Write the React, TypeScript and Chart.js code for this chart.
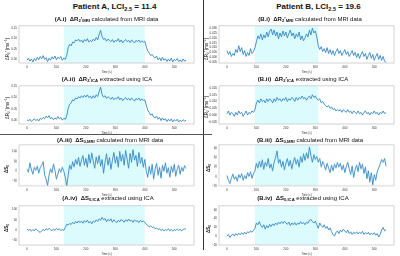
import React, { useEffect, useRef } from 'react';
import { Chart, registerables } from 'chart.js';

Chart.register(...registerables);

// ---------- data ----------
const T_STEP = 5; // seconds between samples (0 … 540 s)
const timeTicks = [0, 100, 200, 300, 400, 500];
const gasSpanA = [125, 400];
const gasSpanB = [95, 310];

// Patient A – ΔR2' from MRI (ms^-1)
const dR2MriA = [
  -0.004, 0.006, -0.008, 0.002, -0.012, 0.004, -0.006, 0.010, -0.002, 0.014,
  0.003, 0.018, 0.000, 0.008, -0.010, 0.006, -0.004, 0.012, 0.002, 0.016,
  -0.002, 0.010, 0.004, 0.014, -0.004, 0.006, 0.000, 0.020, 0.055, 0.072,
  0.064, 0.082, 0.078, 0.092, 0.088, 0.096, 0.084, 0.092, 0.080, 0.094,
  0.086, 0.098, 0.082, 0.090, 0.084, 0.096, 0.088, 0.104, 0.092, 0.118,
  0.138, 0.108, 0.094, 0.100, 0.086, 0.096, 0.090, 0.084, 0.094, 0.080,
  0.090, 0.086, 0.098, 0.082, 0.092, 0.078, 0.088, 0.094, 0.084, 0.090,
  0.080, 0.092, 0.086, 0.078, 0.090, 0.084, 0.092, 0.080, 0.088, 0.082,
  0.086, 0.060, 0.040, 0.030, 0.018, 0.024, 0.012, 0.006, 0.016, -0.002,
  0.008, -0.006, 0.010, -0.004, 0.004, -0.010, 0.002, -0.008, 0.006, -0.012,
  0.000, -0.006, 0.004, -0.010, -0.002, -0.012, 0.002, -0.008, -0.004,
];
// Patient A – ΔR2' from ICA
const dR2IcaA = [
  0.002, -0.004, 0.004, -0.006, 0.000, 0.006, -0.002, 0.004, -0.004, 0.008,
  0.004, 0.012, 0.006, 0.018, 0.010, 0.020, 0.006, 0.012, 0.002, 0.010,
  0.004, 0.016, 0.006, 0.012, 0.000, 0.008, 0.004, 0.018, 0.052, 0.070,
  0.076, 0.090, 0.086, 0.098, 0.094, 0.104, 0.098, 0.108, 0.100, 0.110,
  0.102, 0.112, 0.100, 0.106, 0.096, 0.108, 0.098, 0.112, 0.104, 0.126,
  0.146, 0.112, 0.102, 0.108, 0.096, 0.104, 0.098, 0.092, 0.102, 0.090,
  0.098, 0.094, 0.104, 0.090, 0.098, 0.086, 0.094, 0.100, 0.090, 0.096,
  0.088, 0.098, 0.092, 0.084, 0.096, 0.090, 0.098, 0.086, 0.094, 0.088,
  0.090, 0.066, 0.044, 0.034, 0.022, 0.028, 0.014, 0.010, 0.018, 0.004,
  0.012, -0.002, 0.010, 0.000, 0.006, -0.006, 0.004, -0.004, 0.006, -0.008,
  0.002, -0.004, 0.004, -0.008, 0.000, -0.006, 0.002, -0.004, 0.000,
];
// Patient A – ΔS0 from MRI
const dS0MriA = [
  10, -5, 42, 8, -15, 20, 5, 25, -10, 18,
  30, 48, -20, -40, -72, -20, 12, -8, 36, 5,
  -40, -15, 12, -5, 20, 0, -30, -76, -20, 30,
  10, 48, 22, 60, 35, 70, 25, 55, 78, 30,
  65, 20, 85, 40, 92, 50, 15, 72, 38, 80,
  25, 60, -10, 45, 88, 30, 70, 10, 55, 95,
  40, 75, 20, 100, 50, 85, 30, 105, 60, 15,
  90, 45, 108, 55, 80, 25, 95, 40, 70, 20,
  60, 0, -30, 25, -15, 35, -40, 10, 40, -20,
  20, -35, 30, 0, 42, -10, 18, -30, 25, -5,
  35, -25, 10, 30, -15, 20, 0, 28, 15,
];
// Patient A – ΔS0 from ICA
const dS0IcaA = [
  5, -2, 4, -6, 2, -4, 6, 0, -8, -12,
  -4, 2, -3, 6, 0, 8, 2, -4, 5, -2,
  8, 1, 6, -3, 2, -2, 12, 28, 24, 32,
  27, 38, 30, 42, 34, 45, 36, 44, 33, 46,
  38, 48, 35, 42, 30, 44, 38, 50, 42, 55,
  48, 62, 50, 56, 40, 52, 44, 55, 38, 50,
  42, 36, 48, 40, 52, 44, 38, 50, 42, 54,
  44, 48, 38, 50, 42, 46, 36, 48, 40, 44,
  38, 28, 22, 16, 20, 12, 15, 6, 10, 2,
  6, -3, 4, -5, 2, -2, 6, -4, 3, -6,
  2, -3, 5, -2, 4, -5, 2, 6, 3,
];
// Patient B – ΔR2' from MRI
const dR2MriB = [
  0.007, 0.003, 0.006, 0.001, 0.004, 0.002, 0.008, 0.005, 0.012, 0.006,
  0.010, 0.003, 0.007, 0.001, 0.005, 0.002, 0.009, 0.004, 0.006, 0.010,
  0.016, 0.022, 0.019, 0.024, 0.018, 0.023, 0.020, 0.026, 0.021, 0.027,
  0.029, 0.023, 0.028, 0.022, 0.026, 0.019, 0.025, 0.021, 0.027, 0.022,
  0.026, 0.020, 0.024, 0.028, 0.022, 0.025, 0.019, 0.024, 0.021, 0.026,
  0.018, 0.022, 0.017, 0.020, 0.024, 0.021, 0.028, 0.023, 0.030, 0.025,
  0.027, 0.021, 0.012, 0.008, 0.011, 0.006, 0.009, 0.005, 0.010, 0.004,
  0.008, 0.003, 0.007, 0.002, 0.006, 0.009, 0.004, 0.007, 0.002, 0.005,
  0.008, 0.003, 0.006, 0.001, 0.004, 0.007, 0.002, 0.005, 0.000, 0.004,
  -0.001, 0.003, 0.006, 0.001, 0.004, -0.002, 0.002, 0.005, -0.001, 0.003,
  -0.003, 0.001, 0.004, -0.002, 0.002, -0.003, 0.001, -0.004, -0.005,
];
// Patient B – ΔR2' from ICA
const dR2IcaB = [
  0.001, 0.003, 0.000, 0.002, 0.001, -0.001, 0.002, 0.000, 0.003, 0.001,
  0.002, -0.001, 0.001, 0.003, 0.000, 0.002, 0.001, 0.003, 0.002, 0.004,
  0.009, 0.011, 0.009, 0.012, 0.010, 0.011, 0.009, 0.012, 0.010, 0.012,
  0.011, 0.009, 0.012, 0.010, 0.013, 0.011, 0.012, 0.010, 0.012, 0.011,
  0.013, 0.010, 0.012, 0.011, 0.013, 0.012, 0.010, 0.013, 0.011, 0.013,
  0.012, 0.014, 0.012, 0.013, 0.011, 0.013, 0.014, 0.012, 0.015, 0.013,
  0.014, 0.012, 0.011, 0.012, 0.009, 0.010, 0.008, 0.007, 0.006, 0.007,
  0.005, 0.006, 0.004, 0.005, 0.003, 0.004, 0.003, 0.004, 0.002, 0.004,
  0.003, 0.002, 0.004, 0.002, 0.003, 0.001, 0.003, 0.002, 0.001, 0.003,
  0.001, 0.002, 0.000, 0.002, 0.003, 0.001, 0.002, 0.000, 0.002, 0.001,
  0.003, 0.001, 0.002, 0.000, 0.002, 0.001, 0.003, 0.001, 0.002,
];
// Patient B – ΔS0 from MRI
const dS0MriB = [
  2, -8, -15, -4, 5, -6, 0, -10, 4, -3,
  6, -8, 2, -5, 8, 0, 10, -4, 6, 12,
  28, 18, 32, 20, 35, 15, 30, 22, 38, 18,
  26, 12, 30, 40, 54, 28, 36, 20, 32, 14,
  28, 38, 22, 34, 16, 30, 40, 26, 36, 20,
  42, 30, 48, 34, 50, 38, 62, 44, 30, 46,
  36, 42, 30, 38, 20, 32, 24, 14, 28, 18,
  8, 24, 12, 26, 18, 30, 20, 28, 14, 24,
  8, 20, 30, 16, 4, 22, -2, 14, 24, 10,
  30, 16, 26, 6, 20, -5, 12, -12, 8, -18,
  4, -8, 10, 18, 26, 36, 30, 38, 22,
];
// Patient B – ΔS0 from ICA
const dS0IcaB = [
  0, 4, -3, 2, 5, 0, 6, 2, 7, 3,
  8, 4, 9, 5, 10, 8, 12, 9, 13, 18,
  30, 26, 33, 24, 20, 26, 16, 24, 19, 27,
  22, 28, 24, 30, 26, 32, 28, 33, 29, 34,
  30, 27, 32, 24, 30, 26, 31, 25, 30, 27,
  33, 28, 31, 26, 32, 29, 36, 38, 33, 30,
  34, 26, 18, 30, 24, 20, 26, 18, 22, 14,
  19, 10, 4, 0, 8, 12, 6, 14, 10, 16,
  12, 8, 14, 6, 10, 4, 9, 6, 10, 5,
  9, 6, 11, 4, 8, 5, 9, 3, 7, 4,
  8, 2, 6, -2, 4, 14, 20, 12, 15,
];

// y tick labels
const yTicksR2A = [0.15, 0.1, 0.05, 0.0];
const yTicksS0A = [100, 50, 0, -50];
const yTicksR2MriB = [0.03, 0.025, 0.02, 0.015, 0.01, 0.005, 0.0, -0.005];
const yTicksR2IcaB = [0.02, 0.015, 0.01, 0.005, 0.0, -0.005];
const yTicksS0B = [60, 40, 20, 0, -20];

// ---------- style / layout ----------
const FONT = "'Liberation Sans', Arial, sans-serif";
const LINE = '#3288c6';
const CYAN = '#dcfbfd';
const FRAME = '#c9c9c9';
const TICK = '#333';
const X_MIN = -27;
const X_MAX = 567;
const Y_AXIS_W = 19;
const X_AXIS_H = 11;
const PAD_T = 3;
const PAD_R = 3;

type Box = { l: number; t: number; r: number; b: number };
type Spec = {
  values: number[];
  span: number[];
  yMin: number;
  yMax: number;
  yTicks: number[];
  decimals: number;
  box: Box;
};

const colA = { l: 19, r: 194 };
const colB = { l: 219, r: 394 };
const rows = [
  { t: 25, b: 63 },
  { t: 85, b: 124 },
  { t: 144, b: 185.5 },
  { t: 205, b: 245 },
];

const panels: Spec[] = [
  { values: dR2MriA, span: gasSpanA, yMin: -0.017, yMax: 0.159, yTicks: yTicksR2A, decimals: 2, box: { ...colA, ...rows[0] } },
  { values: dR2IcaA, span: gasSpanA, yMin: -0.017, yMax: 0.152, yTicks: yTicksR2A, decimals: 2, box: { ...colA, ...rows[1] } },
  { values: dS0MriA, span: gasSpanA, yMin: -74, yMax: 133, yTicks: yTicksS0A, decimals: 0, box: { ...colA, ...rows[2] } },
  { values: dS0IcaA, span: gasSpanA, yMin: -74, yMax: 119, yTicks: yTicksS0A, decimals: 0, box: { ...colA, ...rows[3] } },
  { values: dR2MriB, span: gasSpanB, yMin: -0.0057, yMax: 0.0323, yTicks: yTicksR2MriB, decimals: 3, box: { ...colB, ...rows[0] } },
  { values: dR2IcaB, span: gasSpanB, yMin: -0.0066, yMax: 0.0216, yTicks: yTicksR2IcaB, decimals: 3, box: { ...colB, ...rows[1] } },
  { values: dS0MriB, span: gasSpanB, yMin: -20, yMax: 67, yTicks: yTicksS0B, decimals: 0, box: { ...colB, ...rows[2] } },
  { values: dS0IcaB, span: gasSpanB, yMin: -20, yMax: 69, yTicks: yTicksS0B, decimals: 0, box: { ...colB, ...rows[3] } },
];

const fmt = (v: number, d: number) => v.toFixed(d).replace('-', '\u2212');

function Panel({ spec }: { spec: Spec }) {
  const ref = useRef<HTMLCanvasElement>(null);
  const { box } = spec;
  const w = Y_AXIS_W + (box.r - box.l) + PAD_R;
  const h = (box.b - box.t) + PAD_T + X_AXIS_H;
  useEffect(() => {
    const spanPlugin = {
      id: 'gasSpan',
      beforeDatasetsDraw(chart: any) {
        const { ctx, chartArea: a, scales } = chart;
        const x0 = scales.x.getPixelForValue(spec.span[0]);
        const x1 = scales.x.getPixelForValue(spec.span[1]);
        ctx.save();
        ctx.fillStyle = CYAN;
        ctx.fillRect(x0, a.top, x1 - x0, a.bottom - a.top);
        ctx.restore();
      },
      afterDraw(chart: any) {
        const { ctx, chartArea: a } = chart;
        ctx.save();
        ctx.strokeStyle = FRAME;
        ctx.lineWidth = 0.8;
        ctx.strokeRect(a.left, a.top, a.right - a.left, a.bottom - a.top);
        ctx.restore();
      },
    };
    const chart = new Chart(ref.current as HTMLCanvasElement, {
      type: 'line',
      data: {
        datasets: [
          {
            data: spec.values.map((v, i) => ({ x: i * T_STEP, y: v })),
            borderColor: LINE,
            borderWidth: 0.9,
            pointRadius: 0,
            tension: 0,
            fill: false,
          },
        ],
      },
      options: {
        responsive: false,
        animation: false,
        events: [],
        layout: { padding: { top: PAD_T, right: PAD_R, left: 0, bottom: 0 } },
        plugins: { legend: { display: false }, tooltip: { enabled: false } },
        scales: {
          x: {
            type: 'linear',
            min: X_MIN,
            max: X_MAX,
            afterFit: (s: any) => { s.height = X_AXIS_H; },
            afterBuildTicks: (s: any) => { s.ticks = timeTicks.map((v) => ({ value: v })); },
            grid: { display: false, drawTicks: false },
            border: { display: false },
            ticks: {
              autoSkip: false,
              maxRotation: 0,
              padding: 2,
              color: TICK,
              font: { size: 3, family: FONT },
              callback: (v: any) => String(v),
            },
            title: {
              display: true,
              text: 'Time (s)',
              color: TICK,
              padding: 0,
              font: { size: 2.8, family: FONT },
            },
          },
          y: {
            type: 'linear',
            min: spec.yMin,
            max: spec.yMax,
            afterFit: (s: any) => { s.width = Y_AXIS_W; },
            afterBuildTicks: (s: any) => { s.ticks = spec.yTicks.map((v) => ({ value: v })); },
            grid: { display: false, drawTicks: false },
            border: { display: false },
            ticks: {
              autoSkip: false,
              padding: 2,
              color: TICK,
              font: { size: 3, family: FONT },
              callback: (v: any) => fmt(Number(v), spec.decimals),
            },
          },
        },
      } as any,
      plugins: [spanPlugin],
    });
    return () => chart.destroy();
  }, []);
  return (
    <canvas
      ref={ref}
      width={w}
      height={h}
      style={{ position: 'absolute', left: box.l - Y_AXIS_W, top: box.t - PAD_T, width: w, height: h }}
    />
  );
}

const Sub = ({ children }: { children: React.ReactNode }) => (
  <span style={{ fontSize: '0.7em', verticalAlign: '-0.3em', lineHeight: 0 }}>{children}</span>
);
const Sup = ({ children }: { children: React.ReactNode }) => (
  <span style={{ fontSize: '0.7em', verticalAlign: '0.45em', lineHeight: 0 }}>{children}</span>
);

function Label({ x, y, size, rotate, bold, children }: any) {
  return (
    <div
      style={{
        position: 'absolute',
        left: x,
        top: y,
        transform: `translate(-50%, -50%)${rotate ? ' rotate(-90deg)' : ''}`,
        whiteSpace: 'nowrap',
        fontSize: size,
        lineHeight: 1,
        fontWeight: bold ? 'bold' : 'normal',
        color: '#111',
      }}
    >
      {children}
    </div>
  );
}

const R2Title = () => (
  <>ΔR<Sub>2</Sub>′ (ms<Sup>−1</Sup>)</>
);
const S0Title = () => (
  <b>ΔS<Sub>0</Sub></b>
);

export default function App() {
  return (
    <div
      style={{
        position: 'absolute',
        left: 0,
        top: 0,
        width: 400,
        height: 256,
        background: '#fff',
        overflow: 'hidden',
        fontFamily: FONT,
      }}
    >
      {panels.map((p, i) => (
        <Panel key={i} spec={p} />
      ))}

      {/* dividers */}
      <div style={{ position: 'absolute', left: 202.5, top: 0, width: 1, height: 250, background: '#333' }} />
      <div style={{ position: 'absolute', left: 0, top: 134, width: 212, height: 1, background: '#555' }} />

      {/* patient headers */}
      <Label x={114.5} y={6.5} size={8} bold>
        Patient A, LCI<Sub>2.5</Sub> = 11.4
      </Label>
      <Label x={318.5} y={6.5} size={8} bold>
        Patient B, LCI<Sub>2.5</Sub> = 19.6
      </Label>

      {/* panel titles */}
      <Label x={106.5} y={19} size={6}>
        <b>(A.i)&nbsp; ΔR<Sub>2</Sub>′<Sub>MRI</Sub></b> calculated from MRI data
      </Label>
      <Label x={107} y={79} size={6}>
        <b>(A.ii)&nbsp; ΔR<Sub>2</Sub>′<Sub>ICA</Sub></b> extracted using ICA
      </Label>
      <Label x={110} y={140} size={6}>
        <b>(A.iii)&nbsp; ΔS<Sub>0,MRI</Sub></b> calculated from MRI data
      </Label>
      <Label x={108} y={198} size={6}>
        <b>(A.iv)&nbsp; ΔS<Sub>0,ICA</Sub></b> extracted using ICA
      </Label>
      <Label x={310} y={19} size={6}>
        <b>(B.i)&nbsp; ΔR<Sub>2</Sub>′<Sub>MRI</Sub></b> calculated from MRI data
      </Label>
      <Label x={303} y={79} size={6}>
        <b>(B.ii)&nbsp; ΔR<Sub>2</Sub>′<Sub>ICA</Sub></b> extracted using ICA
      </Label>
      <Label x={310} y={140} size={6}>
        <b>(B.iii)&nbsp; ΔS<Sub>0,MRI</Sub></b> calculated from MRI data
      </Label>
      <Label x={303} y={198} size={6}>
        <b>(B.iv)&nbsp; ΔS<Sub>0,ICA</Sub></b> extracted using ICA
      </Label>

      {/* y-axis titles */}
      <Label x={8} y={49} size={4.5} rotate><R2Title /></Label>
      <Label x={8} y={108} size={4.5} rotate><R2Title /></Label>
      <Label x={7} y={169} size={4.5} rotate><S0Title /></Label>
      <Label x={7} y={228} size={4.5} rotate><S0Title /></Label>
      <Label x={206.5} y={49} size={4.5} rotate><R2Title /></Label>
      <Label x={206.5} y={107} size={4.5} rotate><R2Title /></Label>
      <Label x={208.5} y={168} size={4.5} rotate><S0Title /></Label>
      <Label x={209} y={229} size={4.5} rotate><S0Title /></Label>
    </div>
  );
}
